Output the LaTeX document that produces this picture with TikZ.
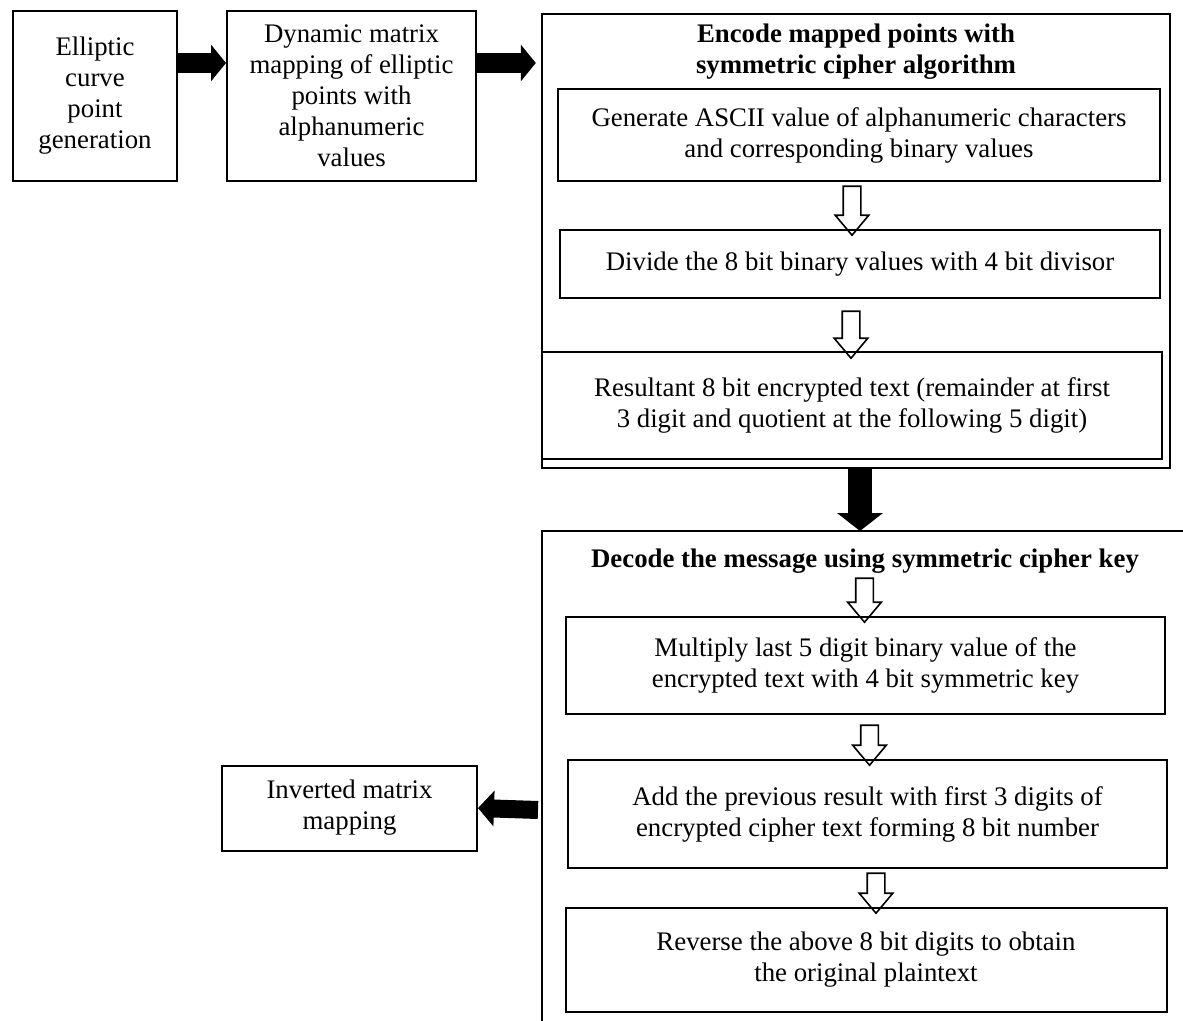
\documentclass[tikz,border=0pt]{standalone}
\usepackage{fontspec}
\setmainfont{Liberation Serif}
\usepackage{tikz}
\usetikzlibrary{arrows.meta,shapes.arrows}

\tikzset{
  box/.style={draw, line width=1pt, align=center, inner sep=2pt},
  outer/.style={draw, line width=1.2pt},
  fat/.style={line width=10pt, -{Triangle[length=7.5pt, width=18pt]}},
  hollow/.style={single arrow, draw, line width=0.8pt, inner sep=4pt,
    single arrow head extend=4pt, single arrow tip angle=80, rotate=-90},
}

\begin{document}
\begin{tikzpicture}[x=0.5pt, y=-0.5pt, font=\fontsize{13.4pt}{15.5pt}\selectfont]
        \useasboundingbox (0,0) rectangle (1183,1021);

        % top row
        \node[box, minimum width=82pt, minimum height=85pt] (curve) at (95,96)
            {Elliptic\\curve\\point\\generation};
        \node[box, minimum width=124.5pt, minimum height=85pt] (mapping) at (351.5,96)
            {Dynamic matrix\\mapping of elliptic\\points with\\alphanumeric\\values};

        % encoding block
        \node[outer, minimum width=314pt, minimum height=227pt] (enc) at (856,241) {};
        \node[font=\fontsize{13.4pt}{15.5pt}\selectfont\bfseries, align=center] (enctitle) at (856,52)
            {Encode mapped points with\\symmetric cipher algorithm};
        \node[box, minimum width=301pt, minimum height=46pt] (ascii) at (859,135)
            {Generate ASCII value of alphanumeric characters\\and corresponding binary values};
        \node[box, minimum width=300pt, minimum height=34pt] (divide) at (860,264)
            {Divide the 8 bit binary values with 4 bit divisor};
        \node[box, minimum width=310pt, minimum height=53pt] (result) at (852,405.5)
            {Resultant 8 bit encrypted text (remainder at first\\3 digit and quotient at the following 5 digit)};

        \node[hollow, minimum height=24.5pt] (h1) at (852,205.5) {};
        \node[hollow, minimum height=23.5pt] (h2) at (851,329.5) {};

        % decoding block
        \coordinate (dectop) at (860,531);
        \coordinate (decleft) at (538,810);
        \draw[line width=1.2pt] (1183,531) -- (542,531) -- (542,1021);
        \node[font=\fontsize{13.4pt}{15.5pt}\selectfont\bfseries] (dectitle) at (865,561)
            {Decode the message using symmetric cipher key};
        \node[box, minimum width=299.5pt, minimum height=48.5pt] (multiply) at (865.5,665.5)
            {Multiply last 5 digit binary value of the\\encrypted text with 4 bit symmetric key};
        \node[box, minimum width=299.5pt, minimum height=54pt] (add) at (867.5,814)
            {Add the previous result with first 3 digits of\\encrypted cipher text forming 8 bit number};
        \node[box, minimum width=300.5pt, minimum height=52pt] (reverse) at (866,960)
            {Reverse the above 8 bit digits to obtain\\the original plaintext};

        \node[hollow, minimum height=22pt] (h3) at (864.5,595) {};
        \node[hollow, minimum height=20pt] (h4) at (869.5,740) {};
        \node[hollow, minimum height=20pt] (h5) at (876,888) {};

        \node[box, minimum width=127.5pt, minimum height=42.5pt] (inverse) at (349.5,808)
            {Inverted matrix\\mapping};

        % block arrows
        \coordinate (row) at (0,63);
        \draw[fat] (curve.east |- row) -- (mapping.west |- row);
        \draw[fat, shorten >=2.5pt] (mapping.east |- row) -- (enc.west |- row);
        \draw[line width=12pt, -{Triangle[length=9pt, width=22.5pt]}] (dectop |- enc.south) -- (dectop);
        \draw[line width=9pt, -{Triangle[length=8pt, width=17.5pt]}] (decleft) -- (inverse.east);
    \end{tikzpicture}
\end{document}
